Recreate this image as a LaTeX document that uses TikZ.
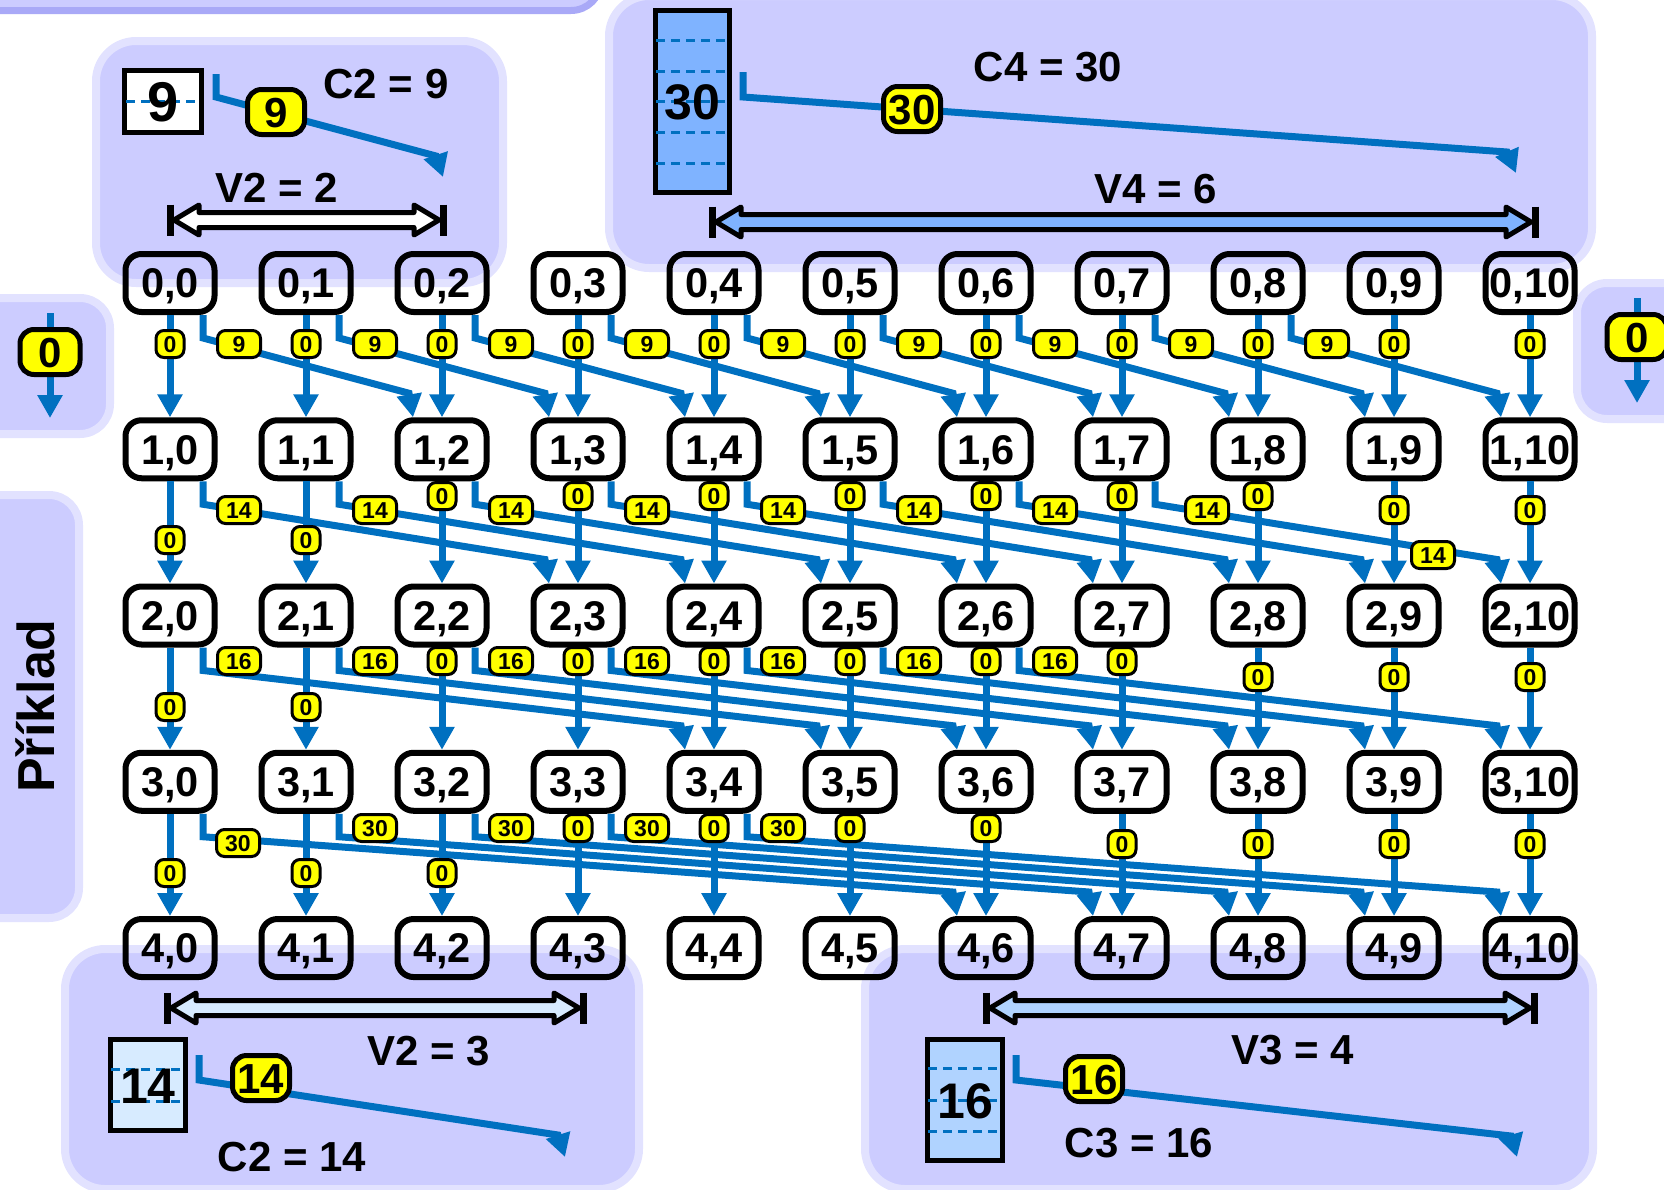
\documentclass[tikz,border=0pt]{standalone}
\usepackage{fontspec}
\setmainfont{Liberation Sans}
\usetikzlibrary{arrows.meta,calc}
\definecolor{eblue}{HTML}{0070C0}
\definecolor{lyellow}{HTML}{FFFF00}
\definecolor{pfill}{HTML}{CCCCFF}
\definecolor{pborder}{HTML}{E2E2FF}
\definecolor{pdark}{HTML}{A9A9F7}
\definecolor{bthirty}{HTML}{7FB3FF}
\definecolor{bsixteen}{HTML}{B0D3FF}
\definecolor{bfourteen}{HTML}{D7EBFF}
\newcommand\wdarrow[4]{%
  \draw[line width=5pt, fill=#4, line join=round] (#1+4,#3) -- (#1+29,#3-15) -- (#1+29,#3-7.5) -- (#2-29,#3-7.5) -- (#2-29,#3-15) -- (#2-4,#3) -- (#2-29,#3+15) -- (#2-29,#3+7.5) -- (#1+29,#3+7.5) -- (#1+29,#3+15) -- cycle;
  \draw[line width=7pt] (#1,#3-15.5) -- (#1,#3+15.5) (#2,#3-15.5) -- (#2,#3+15.5);}
\begin{document}
\begin{tikzpicture}[x=1pt,y=-1pt,
  gnode/.style={draw=black, line width=6pt, rounded corners=16pt, minimum width=89pt, minimum height=58pt, inner sep=0pt, text height=29.5pt, text depth=0pt, font=\fontsize{41.5}{41.5}\selectfont\bfseries},
  zlab/.style={fill=lyellow, draw=black, line width=3pt, rounded corners=8pt, minimum width=28pt, minimum height=27pt, inner sep=0pt, text height=16.5pt, text depth=0pt, font=\fontsize{23}{23}\selectfont\bfseries},
  dlab/.style={zlab, minimum width=43pt},
  biglab/.style={fill=lyellow, draw=black, line width=5pt, rounded corners=14pt, minimum width=57pt, minimum height=45pt, inner sep=0pt, text height=30pt, text depth=0pt, font=\fontsize{42}{42}\selectfont\bfseries},
  flow/.style={draw=eblue, line width=7pt, -{Triangle[length=23pt,width=24pt]}},
  panel/.style={fill=pfill, draw=pborder, line width=8pt, rounded corners=40pt},
  txt/.style={font=\fontsize{42}{42}\selectfont\bfseries, inner sep=0pt},
  boxtxt/.style={font=\fontsize{50}{50}\selectfont\bfseries, inner sep=0pt, text height=36pt, text depth=0pt},
  cell/.style={draw=black, line width=5pt, inner sep=0pt},
  unitdash/.style={draw=eblue, line width=3pt, dash pattern=on 9pt off 6pt},
]
\useasboundingbox (0,0) rectangle (1664,1189);
\clip (0,0) rectangle (1664,1189);

% ---------- panels ----------
\draw[fill=pfill, draw=pdark, line width=7pt, rounded corners=30pt] (-100,-100) rectangle (601,10.5);
\draw[panel] (96,41) rectangle (503,283);
\draw[panel] (609,-4) rectangle (1592,268);
\draw[panel, rounded corners=30pt] (-36,298) rectangle (110,434);
\draw[panel, rounded corners=30pt] (1577,283) rectangle (1716,419);
\draw[panel, rounded corners=30pt] (-36,495) rectangle (79,918);
\draw[panel] (65,949) rectangle (639,1189);
\draw[panel] (865,949) rectangle (1593,1189);

% ---------- side panels ----------
\draw[flow] (50,313) -- (50,418);
\node[biglab, minimum width=60pt] (sideL) at (50,352) {0};
\draw[flow] (1637,298) -- (1637,403);
\node[biglab, minimum width=60pt] (sideR) at (1637,337) {0};
\node[font=\fontsize{52}{52}\selectfont\bfseries, rotate=90, inner sep=0pt] (priklad) at (35,706) {Příklad};

% ---------- top-left panel ----------
\node[cell, fill=white, minimum width=77pt, minimum height=62pt] (b9) at (163,101.5) {};
\draw[unitdash] (126,101.5) -- (200,101.5);
\node[boxtxt, font=\fontsize{56}{56}\selectfont\bfseries, text height=40pt] (t9) at (b9) {9};
\coordinate (e9a) at (216,74);
\coordinate (e9b) at (436,156);
\coordinate (e9c) at (443,177);
\draw[flow] (e9a) -- (216,97) -- (e9b) -- (e9c);
\node[biglab] (l9) at (276,112) {9};
\node[txt] (c2a) at (386,84) {C2 = 9};
\node[txt] (v2a) at (277,188) {V2 = 2};
\wdarrow{170}{443}{220}{white}

% ---------- top-right panel ----------
\node[cell, fill=bthirty, minimum width=74pt, minimum height=182pt] (b30) at (692.5,101.5) {};
\foreach \yy in {40,71,101.5,132,163} \draw[unitdash] (656,\yy) -- (729,\yy);
\node[boxtxt] (t30) at (b30) {30};
\coordinate (e30a) at (743,72);
\coordinate (e30b) at (1507,152);
\coordinate (e30c) at (1516,173);
\draw[flow] (e30a) -- (743,97) -- (e30b) -- (e30c);
\node[biglab] (l30) at (912,109) {30};
\node[txt] (c4) at (1048,67) {C4 = 30};
\node[txt] (v4) at (1156,189) {V4 = 6};
\wdarrow{712}{1535}{222}{bthirty}

% ---------- bottom-left panel ----------
\node[cell, fill=bfourteen, minimum width=75pt, minimum height=91pt] (b14) at (148,1085) {};
\foreach \yy in {1069,1101} \draw[unitdash] (111,\yy) -- (185,\yy);
\node[boxtxt] (t14) at (b14) {14};
\coordinate (e14a) at (199,1055);
\coordinate (e14b) at (558,1135);
\coordinate (e14c) at (565,1157);
\draw[flow] (e14a) -- (199,1080) -- (e14b) -- (e14c);
\node[biglab] (l14) at (261,1078) {14};
\node[txt] (v2b) at (429,1051) {V2 = 3};
\node[txt] (c2b) at (292,1157) {C2 = 14};
\wdarrow{167}{583}{1008}{bfourteen}

% ---------- bottom-right panel ----------
\node[cell, fill=bsixteen, minimum width=75pt, minimum height=121pt] (b16) at (965,1100) {};
\foreach \yy in {1068.5,1100,1131.5} \draw[unitdash] (928,\yy) -- (1002,\yy);
\node[boxtxt] (t16) at (b16) {16};
\coordinate (e16a) at (1016,1055);
\coordinate (e16b) at (1511,1136);
\coordinate (e16c) at (1517,1157);
\draw[flow] (e16a) -- (1016,1080) -- (e16b) -- (e16c);
\node[biglab] (l16) at (1094,1079) {16};
\node[txt] (v3) at (1293,1050) {V3 = 4};
\node[txt] (c3) at (1139,1143) {C3 = 16};
\wdarrow{986}{1534}{1008}{bsixteen}

% ---------- grid nodes ----------
\foreach \i in {0,...,4} {
  \foreach \j in {0,...,10} {
    \node[gnode] (n\i-\j) at ({170+136*\j},{283+166.25*\i}) {\i,\j};
  }
}

% ---------- vertical edges ----------
\foreach \i in {0,...,3} {
  \pgfmathtruncatemacro\k{\i+1}
  \foreach \j in {0,...,10} {
    \draw[flow] (n\i-\j.south) -- (n\k-\j.north);
  }
}

% ---------- diagonal edges ----------
\foreach \i/\v/\jm in {0/2/8,1/3/7,2/4/6,3/6/4} {
  \pgfmathtruncatemacro\k{\i+1}
  \foreach \j in {0,...,\jm} {
    \pgfmathtruncatemacro\m{\j+\v}
    \draw[flow] ($(n\i-\j.south)+(33,0)$) -- ++(0,23) -- ($(n\k-\m.north)+(-33,-24)$) -- ($(n\k-\m.north)+(-29,0)$);
  }
}

% ---------- diagonal labels ----------
\foreach \j in {0,...,8} \node[dlab] (d0-\j) at ({239+136*\j},344) {9};
\foreach \j in {0,...,6} \node[dlab] (d1-\j) at ({239+136*\j},510) {14};
\node[dlab] (d1-7) at (1207,510) {14};
\node[dlab] (d1-x) at (1433,555) {14};
\foreach \j in {0,...,6} \node[dlab] (d2-\j) at ({239+136*\j},661) {16};
\node[dlab] (d3-0) at (238,843) {30};
\foreach \j in {1,...,4} \node[dlab] (d3-\j) at ({239+136*\j},828) {30};

% ---------- zero labels ----------
\foreach \j in {0,...,10} \node[zlab] (z0-\j) at ({170+136*\j},344) {0};
\foreach \j/\yy in {0/540,1/540,2/496,3/496,4/496,5/496,6/496,7/496,8/496,9/510,10/510}
  \node[zlab] (z1-\j) at ({170+136*\j},\yy) {0};
\foreach \j/\yy in {0/707,1/707,2/661,3/661,4/661,5/661,6/661,7/661,8/677,9/677,10/677}
  \node[zlab] (z2-\j) at ({170+136*\j},\yy) {0};
\foreach \j/\yy in {0/873,1/873,2/873,3/828,4/828,5/828,6/828,7/844,8/844,9/844,10/844}
  \node[zlab] (z3-\j) at ({170+136*\j},\yy) {0};

\end{tikzpicture}
\end{document}
